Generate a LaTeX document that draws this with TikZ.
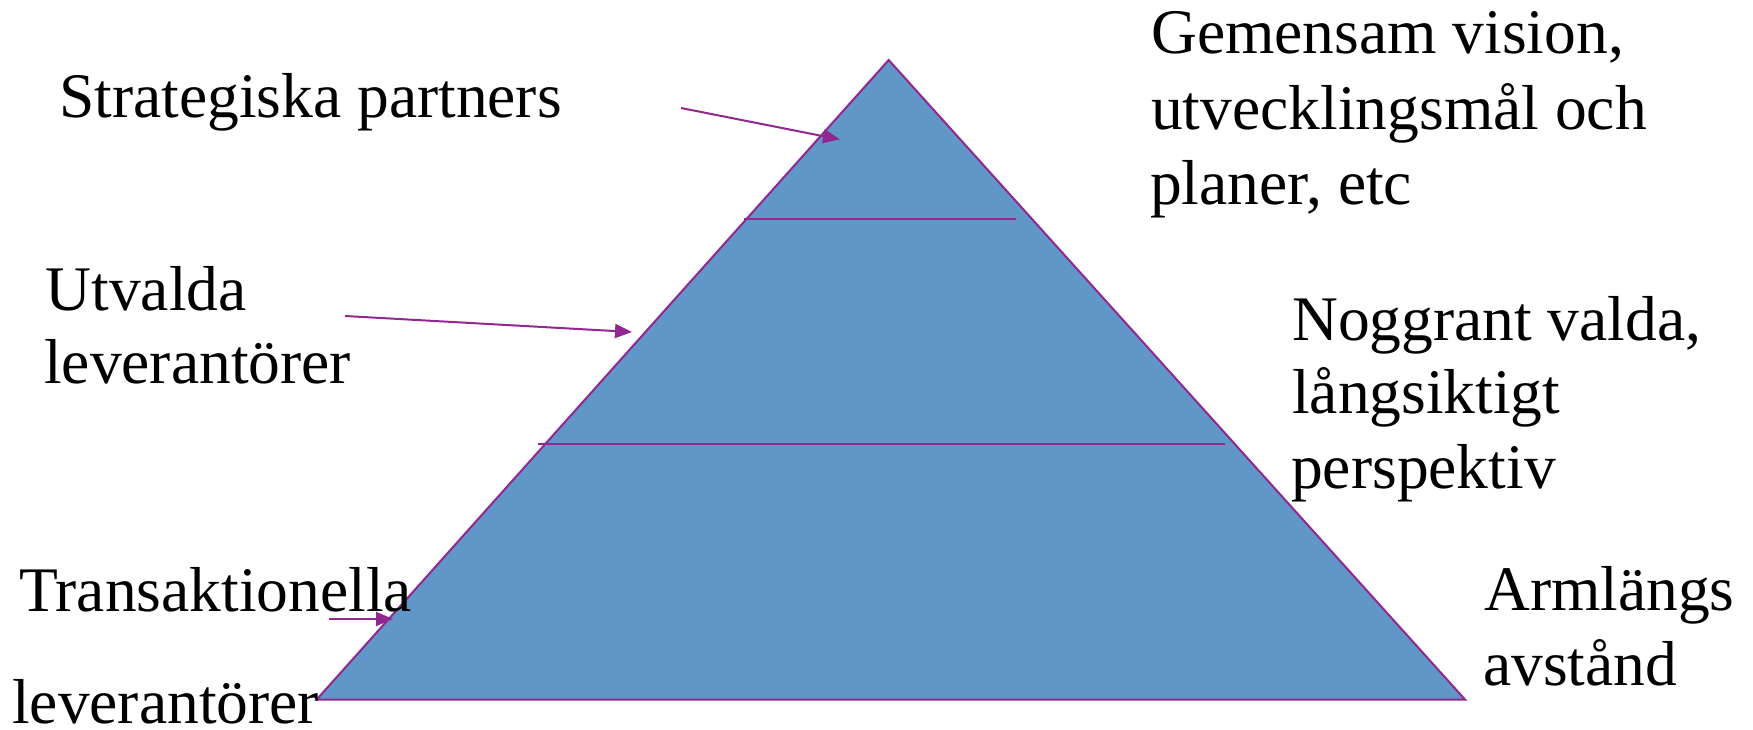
\documentclass[tikz,border=0pt]{standalone}
\usepackage{fontspec}
\setmainfont{Liberation Serif}
\usetikzlibrary{arrows.meta}
\definecolor{pyrfill}{RGB}{96,150,200}
\definecolor{pyrline}{RGB}{146,39,143}
\begin{document}
\begin{tikzpicture}[x=1pt,y=-1pt,
  lbl/.style={anchor=base west,inner sep=0pt,font=\fontsize{63.5}{74}\selectfont},
  sepline/.style={draw=pyrline,line width=2pt},
  pointer/.style={draw=pyrline,line width=2pt,-{Triangle[length=17pt,width=14pt]}}]
\useasboundingbox[fill=white] (0,0) rectangle (1753,730);
% pyramid
\coordinate (apex) at (888.7,60);
\coordinate (bl) at (316.7,699.5);
\coordinate (br) at (1465,699.5);
\draw[fill=pyrfill,draw=pyrline,line width=2pt,line join=miter] (apex) -- (br) -- (bl) -- cycle;
% separators
\coordinate (s1l) at (743.5,219.5);
\coordinate (s1r) at (1016,219.5);
\coordinate (s2l) at (537.5,443.8);
\coordinate (s2r) at (1225,443.8);
\draw[sepline] (s1l) -- (s1r);
\draw[sepline] (s2l) -- (s2r);
% labels left
\node[lbl] (sp) at (59,117.5) {Strategiska partners};
\node[lbl] (utv1) at (45.5,310) {Utvalda};
\node[lbl] (utv2) at (44,383.5) {leverantörer};
\node[lbl] (tr1) at (19,611.5) {Transaktionella};
\node[lbl] (tr2) at (12,723) {leverantörer};
% labels right
\node[lbl] (gv1) at (1151,54) {Gemensam vision,};
\node[lbl] (gv2) at (1151,129.5) {utvecklingsmål och};
\node[lbl] (gv3) at (1150,205) {planer, etc};
\node[lbl] (nv1) at (1292,340) {Noggrant valda,};
\node[lbl] (nv2) at (1292,413.5) {långsiktigt};
\node[lbl] (nv3) at (1291,488) {perspektiv};
\node[lbl] (al1) at (1484,610) {Armlängs};
\node[lbl] (al2) at (1483,685) {avstånd};
% pointers
\coordinate (a1s) at (681,108);
\coordinate (a1e) at (840,139.5);
\coordinate (a2s) at (345,316);
\coordinate (a2e) at (632,332);
\coordinate (a3s) at (329,619);
\coordinate (a3e) at (393,619);
\draw[pointer] (a1s) -- (a1e);
\draw[pointer] (a2s) -- (a2e);
\draw[pointer] (a3s) -- (a3e);
\end{tikzpicture}
\end{document}
